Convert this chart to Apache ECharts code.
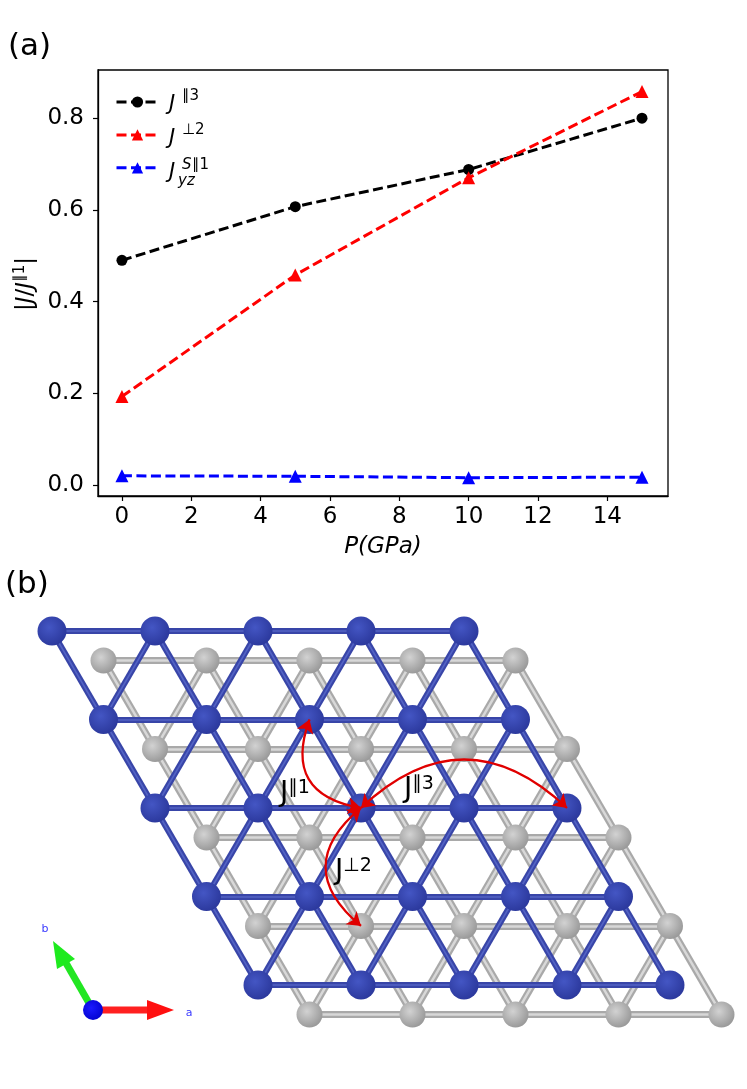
<!DOCTYPE html>
<html>
<head>
<meta charset="utf-8">
<script src="https://cdn.jsdelivr.net/npm/echarts@6/dist/echarts.min.js"></script>
<style>
html, body { margin: 0; padding: 0; background: #fff; }
#main { width: 747px; height: 1089px; }
</style>
</head>
<body>
<div id="main"></div>
<script>
// panel (a): |J/J||1| against pressure
var pressure = [0, 5, 10, 15];
var jPar3 = [0.490, 0.607, 0.688, 0.800];
var jPerp2 = [0.193, 0.458, 0.670, 0.858];
var jSyz1 = [0.020, 0.019, 0.016, 0.017];
var xTicks = [0, 2, 4, 6, 8, 10, 12, 14];
var yTicks = [0, 0.2, 0.4, 0.6, 0.8];

// panel (b): two stacked triangular layers, cell indices along a and b
var cellIdx = [0, 1, 2, 3, 4];
var grayShift = [1 / 3, 1 / 3];
// exchange paths as [i, j, layer], layer 0 = blue, 1 = gray
var pathFrom = [[2, 2, 0], [2, 2, 0], [2, 2, 0]];
var pathTo = [[2, 1, 0], [4, 2, 0], [1, 3, 1]];
var pathBend = [0.6, 0.47, -0.6];

var FONT = 'DejaVu Sans';
var chart = echarts.init(document.getElementById('main'));

function latt(p) {
    var s = p[2] ? grayShift : [0, 0];
    var i = p[0] + s[0], j = p[1] + s[1];
    return [i + 0.5 * j, j * Math.sqrt(3) / 2];
}

function buildLayer(layer) {
    var atoms = [], bonds = [];
    var n = cellIdx.length;
    cellIdx.forEach(function (j) {
        cellIdx.forEach(function (i) {
            var p = latt([i, j, layer]);
            atoms.push(p);
            if (i < n - 1) bonds.push({ coords: [p, latt([i + 1, j, layer])] });
            if (j < n - 1) {
                bonds.push({ coords: [p, latt([i, j + 1, layer])] });
                if (i > 0) bonds.push({ coords: [p, latt([i - 1, j + 1, layer])] });
            }
        });
    });
    return { atoms: atoms, bonds: bonds };
}

var blue = buildLayer(0);
var gray = buildLayer(1);

function bondSeries(data, color, width, z) {
    return {
        type: 'lines', coordinateSystem: 'cartesian2d', xAxisIndex: 1, yAxisIndex: 1,
        silent: true, z: z, symbol: 'none',
        lineStyle: { color: color, width: width, opacity: 1, curveness: 0 },
        data: data
    };
}

function atomSeries(data, inner, outer, size, z) {
    return {
        type: 'scatter', xAxisIndex: 1, yAxisIndex: 1, silent: true, z: z,
        symbol: 'circle', symbolSize: size,
        itemStyle: {
            opacity: 1,
            color: new echarts.graphic.RadialGradient(0.4, 0.38, 0.65, [
                { offset: 0, color: inner }, { offset: 1, color: outer }
            ])
        },
        data: data
    };
}

var arrows = pathFrom.map(function (f, k) {
    return { coords: [latt(f), latt(pathTo[k])], lineStyle: { curveness: pathBend[k] } };
});

function lineSeries(name, data, color, symbol, size) {
    return {
        name: name, type: 'line', xAxisIndex: 0, yAxisIndex: 0,
        data: pressure.map(function (p, k) { return [p, data[k]]; }),
        symbol: symbol, symbolSize: size,
        lineStyle: { color: color, width: 3, type: [10, 4.5] },
        itemStyle: { color: color, opacity: 1 }
    };
}

function supLabel(x, y, main, sup, size) {
    return {
        type: 'text', x: x, y: y, z: 100,
        style: {
            text: '{j|' + main + '}{s|' + sup + '}',
            align: 'left', verticalAlign: 'middle',
            rich: {
                j: { fontFamily: FONT, fontSize: size, lineHeight: size * 1.1, fill: '#000' },
                s: { fontFamily: FONT, fontSize: size * 0.68, fill: '#000', verticalAlign: 'top' }
            }
        }
    };
}

function txt(x, y, s, size, italic) {
    return {
        type: 'text', x: x, y: y,
        style: { text: s, fontFamily: FONT, fontSize: size, fontStyle: italic ? 'italic' : 'normal', fill: '#000', verticalAlign: 'middle' }
    };
}

var option = {
    backgroundColor: '#fff',
    animation: false,
    grid: [
        { left: 98, top: 70, width: 570, height: 426, show: true, borderColor: '#000', borderWidth: 1.3 },
        { left: 0, right: 0, top: 580, bottom: 0 }
    ],
    xAxis: [{
        type: 'value', gridIndex: 0, min: -0.69, max: 15.75,
        name: 'P(GPa)', nameLocation: 'middle', nameGap: 40,
        nameTextStyle: { fontFamily: FONT, fontSize: 23, fontStyle: 'italic', color: '#000' },
        axisLine: { onZero: false, lineStyle: { color: '#000', width: 1.3 } },
        axisTick: { inside: false, length: 5, lineStyle: { color: '#000', width: 1.2 }, customValues: xTicks },
        axisLabel: { fontFamily: FONT, fontSize: 23, color: '#000', margin: 10, customValues: xTicks },
        splitLine: { show: false }
    }, {
        type: 'value', gridIndex: 1, min: -0.5049, max: 6.7476, show: false
    }],
    yAxis: [{
        type: 'value', gridIndex: 0, min: -0.024, max: 0.905,
        axisLine: { onZero: false, lineStyle: { color: '#000', width: 1.3 } },
        axisTick: { inside: false, length: 5, lineStyle: { color: '#000', width: 1.2 }, customValues: yTicks },
        axisLabel: {
            fontFamily: FONT, fontSize: 23, color: '#000', margin: 14, customValues: yTicks,
            formatter: function (v) { return v.toFixed(1); }
        },
        splitLine: { show: false }
    }, {
        type: 'value', gridIndex: 1, min: -0.499, max: 4.482, inverse: true, show: false
    }],
    legend: {
        orient: 'vertical', left: 110, top: 90, itemWidth: 42, itemHeight: 14, itemGap: 20.3,
        selectedMode: false, formatter: function () { return ''; },
        textStyle: { fontSize: 11 },
        lineStyle: { width: 3, type: [10, 4.5] },
        data: ['J3', 'J2', 'JS1']
    },
    series: [
        lineSeries('J3', jPar3, '#000000', 'circle', 11),
        lineSeries('J2', jPerp2, '#ff0000', 'triangle', 13),
        lineSeries('JS1', jSyz1, '#0000ff', 'triangle', 13),
        bondSeries(gray.bonds, '#a9a9a9', 7, 1),
        bondSeries(gray.bonds, '#d8d8d8', 2.5, 2),
        atomSeries(gray.atoms, '#d2d2d2', '#989898', 26, 3),
        bondSeries(blue.bonds, '#3845a8', 6, 4),
        bondSeries(blue.bonds, '#5363c4', 1.6, 5),
        atomSeries(blue.atoms, '#4456c4', '#2b389c', 29, 6),
        {
            type: 'lines', coordinateSystem: 'cartesian2d', xAxisIndex: 1, yAxisIndex: 1,
            silent: true, z: 7, symbol: ['arrow', 'arrow'], symbolSize: 13,
            lineStyle: { color: '#e00000', width: 2.3, opacity: 1 },
            data: arrows
        }
    ],
    graphic: [
        txt(8, 47, '(a)', 31, false),
        txt(5, 585, '(b)', 31, false),
        {
            type: 'text', x: 26, y: 284, rotation: Math.PI / 2,
            style: {
                text: '{n||}{i|J}{n|/}{i|J}{s|\u22251}{n||}',
                align: 'center', verticalAlign: 'middle',
                rich: {
                    n: { fontFamily: FONT, fontSize: 23, lineHeight: 27, fill: '#000' },
                    i: { fontFamily: FONT, fontSize: 23, lineHeight: 27, fontStyle: 'italic', fill: '#000' },
                    s: { fontFamily: FONT, fontSize: 15, fill: '#000', verticalAlign: 'top' }
                }
            }
        },
        // legend labels
        txt(169, 105, 'J', 21, true),
        txt(182, 96, '\u22253', 15, false),
        txt(169, 139, 'J', 21, true),
        txt(182, 130, '\u22a52', 15, false),
        txt(169, 173, 'J', 21, true),
        txt(182, 165, 'S', 15, true),
        txt(192, 165, '\u22251', 15, false),
        txt(178, 181, 'yz', 15, true),
        // exchange labels in (b)
        supLabel(280, 794, 'J', '\u22251', 28),
        supLabel(404, 790, 'J', '\u22253', 28),
        supLabel(335, 872, 'J', '\u22a52', 28),
        // crystal axes indicator
        { type: 'polyline', shape: { points: [[93, 1010], [149, 1010]] }, style: { stroke: '#ff2020', lineWidth: 7 } },
        { type: 'polygon', shape: { points: [[147, 1000], [174, 1010], [147, 1020]] }, style: { fill: '#ff1010' } },
        { type: 'polyline', shape: { points: [[93, 1010], [66, 963]] }, style: { stroke: '#22e622', lineWidth: 7 } },
        { type: 'polygon', shape: { points: [[53, 941], [75, 959], [57, 969]] }, style: { fill: '#1eea1e' } },
        {
            type: 'circle', shape: { cx: 93, cy: 1010, r: 10 },
            style: { fill: new echarts.graphic.RadialGradient(0.4, 0.4, 0.7, [{ offset: 0, color: '#1a1aff' }, { offset: 1, color: '#0000cc' }]) }
        },
        { type: 'text', x: 45, y: 929, style: { text: 'b', fontFamily: FONT, fontSize: 11, fill: '#3a3aff', align: 'center', verticalAlign: 'middle' } },
        { type: 'text', x: 189, y: 1013, style: { text: 'a', fontFamily: FONT, fontSize: 11, fill: '#3a3aff', align: 'center', verticalAlign: 'middle' } }
    ]
};

chart.setOption(option);
</script>
</body>
</html>
